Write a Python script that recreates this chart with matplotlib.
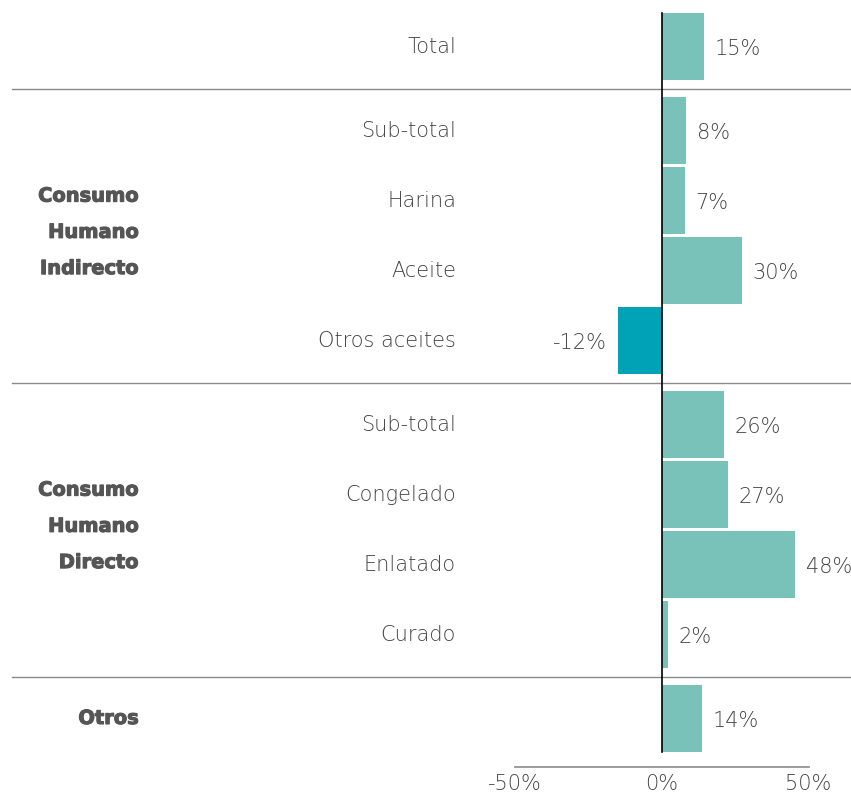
import matplotlib
matplotlib.use("Agg")
import matplotlib.pyplot as plt
import matplotlib.patheffects as pe

# data (bar lengths as drawn, labels as printed)
categories = ["Total",
              "Sub-total", "Harina", "Aceite", "Otros aceites",
              "Sub-total", "Congelado", "Enlatado", "Curado",
              ""]
bar_values = [14.4, 8.3, 7.9, 27.3, -14.9, 21.2, 22.6, 45.3, 2.1, 13.7]
value_labels = ["15%", "8%", "7%", "30%", "-12%",
                "26%", "27%", "48%", "2%", "14%"]
row_group = [0, 1, 1, 1, 1, 2, 2, 2, 2, 3]
group_labels = ["", "Consumo\nHumano\nIndirecto", "Consumo\nHumano\nDirecto", "Otros"]
xticks = [-50, 0, 50]
xtick_labels = ["-50%", "0%", "50%"]

POS_COL = "#79c2b9"
NEG_COL = "#00a3b5"
TXT = "#444444"
GRP = "#555555"
FONT = ["DejaVu Sans"]
FS = 15

W, H = 851, 796
x0_px, px_per = 661.5, 2.94    # zero position and pixels per percent
y0_px, row_px = 46.5, 70       # first row centre and row pitch
gap = 0.2                      # extra gap between groups, in rows

fig = plt.figure(figsize=(W / 100, H / 100), dpi=100)
ax = fig.add_axes([0, 0, 1, 1])
ax.set_xlim(-x0_px / px_per, (W - x0_px) / px_per)
ax.set_ylim((H - y0_px) / row_px, -y0_px / row_px)
ax.axis("off")

ypos = [i + gap * g for i, g in enumerate(row_group)]
colors = [POS_COL if v >= 0 else NEG_COL for v in bar_values]
bh = 67 / row_px
ax.barh(ypos, bar_values, height=bh, color=colors, zorder=2)

lab_x = (456 - x0_px) / px_per
grp_x = (139 - x0_px) / px_per
pad = 11 / px_per
for y, v, c, vl in zip(ypos, bar_values, categories, value_labels):
    if c:
        ax.text(lab_x, y, c, ha="right", va="center", fontsize=FS,
                color=TXT, family=FONT, fontweight="light")
    if v >= 0:
        ax.text(v + pad, y + 0.03, vl, ha="left", va="center",
                fontsize=FS, color=TXT, family=FONT, fontweight="light")
    else:
        ax.text(v - pad, y + 0.03, vl, ha="right", va="center",
                fontsize=FS, color=TXT, family=FONT, fontweight="light")

# group labels and separators
heavy = [pe.withStroke(linewidth=0.8, foreground=GRP)]
for g, lab in enumerate(group_labels):
    ys = [y for y, rg in zip(ypos, row_group) if rg == g]
    if lab:
        off = -0.045 if "\n" in lab else 0
        ax.text(grp_x, (min(ys) + max(ys)) / 2 + off, lab, ha="right",
                va="center", fontsize=14, color=GRP, family=FONT,
                fontweight="bold", linespacing=2.15, path_effects=heavy)
    if g > 0:
        prev = [y for y, rg in zip(ypos, row_group) if rg == g - 1]
        ysep = (max(prev) + min(ys)) / 2
        ax.plot([(12 - x0_px) / px_per, (W - x0_px) / px_per], [ysep, ysep],
                color="#8a8a8a", lw=1.0, zorder=1)

# zero line
ax.plot([0, 0], [ypos[0] - bh / 2, ypos[-1] + bh / 2], color="black",
        lw=1.2, zorder=3)

# bottom axis
yax = ypos[-1] + 0.69
ax.plot([xticks[0], xticks[-1]], [yax, yax], color="#8a8a8a", lw=1.2)
for t, tl in zip(xticks, xtick_labels):
    ax.text(t, yax + 0.25, tl, ha="center", va="center", fontsize=FS,
            color=TXT, family=FONT, fontweight="light")

fig.savefig("out.png", dpi=100)
